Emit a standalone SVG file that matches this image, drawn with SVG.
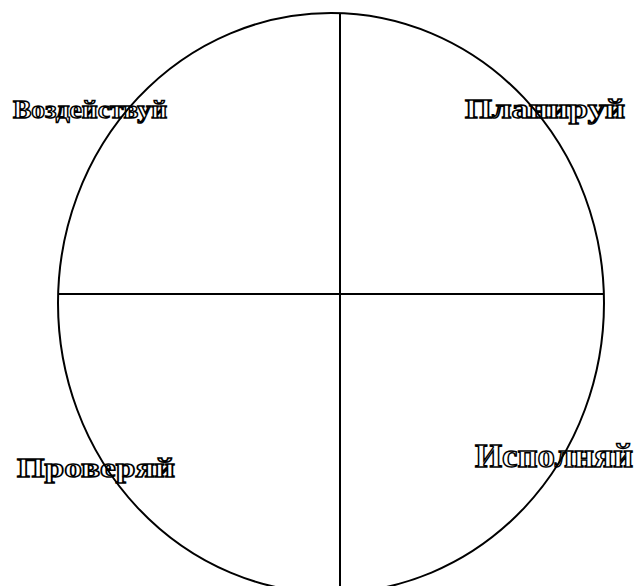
<svg xmlns="http://www.w3.org/2000/svg" width="637" height="586" viewBox="0 0 637 586">
<style>
.lbl{font-family:"Liberation Serif","DejaVu Serif",serif;font-weight:bold;fill:#fff;stroke:#000;stroke-width:1.4;}
.ln{fill:none;stroke:#000;stroke-width:2;}
</style>
<rect width="637" height="586" fill="#fff"/>
<g id="label-vozdeystvuy"><text class="lbl" x="13" y="118" font-size="26" textLength="154" lengthAdjust="spacingAndGlyphs">Воздействуй</text></g>
<g id="label-planiruy"><text class="lbl" x="465" y="118" font-size="27" textLength="160" lengthAdjust="spacingAndGlyphs">Планируй</text></g>
<g id="label-proveryay"><text class="lbl" x="17" y="477" font-size="27" textLength="158" lengthAdjust="spacingAndGlyphs">Проверяй</text></g>
<g id="label-ispolnyay"><text class="lbl" x="475" y="467" font-size="33" textLength="158" lengthAdjust="spacingAndGlyphs">Исполняй</text></g>
<g id="connectors">
<ellipse class="ln" cx="331" cy="303" rx="273" ry="290"/>
<line class="ln" x1="340" y1="13" x2="340" y2="586"/>
<line class="ln" x1="59" y1="294" x2="604" y2="294"/>
</g>
</svg>
